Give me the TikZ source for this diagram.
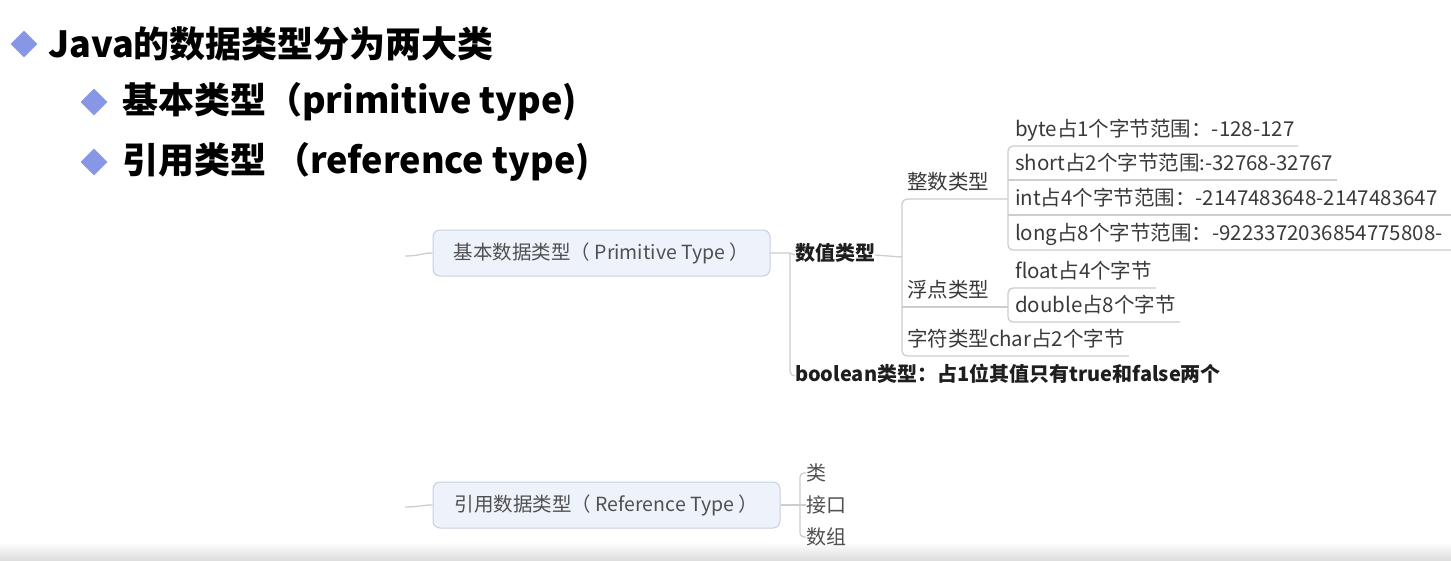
\documentclass[tikz,border=0pt]{standalone}
\usepackage{fontspec}
\setmainfont{Noto Sans CJK SC}
\usetikzlibrary{shapes.geometric}
\definecolor{diam}{HTML}{8896E6}
\definecolor{boxfill}{HTML}{EEF2FB}
\definecolor{boxline}{HTML}{C7CFE0}
\definecolor{boxtext}{HTML}{505050}
\definecolor{linec}{HTML}{CDCDCD}
\definecolor{leafc}{HTML}{3A3A3A}
\definecolor{midc}{HTML}{1E1E1E}
\begin{document}
\begin{tikzpicture}[x=1pt,y=-1pt,
  bullet/.style={diamond,fill=diam,draw=none,minimum width=27pt,minimum height=27pt,inner sep=0pt},
  title/.style={anchor=west,inner sep=0pt,font=\fontsize{36}{40}\selectfont\bfseries,text=black},
  pbox/.style={draw=boxline,line width=1pt,fill=boxfill,rounded corners=7pt,inner sep=0pt,
    font=\fontsize{19.5}{22}\selectfont,text=boxtext,minimum height=46pt},
  mid/.style={anchor=west,inner xsep=0pt,inner ysep=5.5pt,outer sep=0pt,font=\fontsize{20}{24}\selectfont\bfseries,
    text=midc,text height=15pt,text depth=4pt},
  leaf/.style={anchor=west,inner xsep=0pt,inner ysep=5.5pt,outer sep=0pt,font=\fontsize{20.5}{24}\selectfont,
    text=leafc,text height=15pt,text depth=4pt},
  conn/.style={draw=linec,line width=1.3pt},
]
\useasboundingbox (0,0) rectangle (1451,560);
\shade[top color=white,bottom color=black!13] (0,542) rectangle (1451,560);

% title bullets
\node[bullet] (d1) at (24,44) {};
\node[title] (t1) at (48,44) {Java的数据类型分为两大类};
\node[bullet] (d2) at (94,102) {};
\node[title] (t2) at (122,102) {基本类型（primitive type)};
\node[bullet] (d3) at (94,162) {};
\node[title] (t3) at (122,162) {引用类型 （reference type)};

% primitive branch
\node[pbox,minimum width=337pt] (prim) at (601.5,253) {基本数据类型（ Primitive Type ）};
\coordinate (s1) at (405,256);
\draw[conn] (s1) .. controls (420,256) and (421,253) .. (prim.west);

\node[mid] (num) at (795,255) {数值类型};
\node[mid] (bool) at (795,376) {boolean类型：占1位其值只有true和false两个};

\node[leaf] (zs) at (907,184) {整数类型};
\node[leaf] (fd) at (907,292) {浮点类型};
\node[leaf] (ch) at (907,341) {字符类型char占2个字节};

\node[leaf] (byte) at (1015,131) {byte占1个字节范围：-128-127};
\node[leaf] (short) at (1015,165) {short占2个字节范围:-32768-32767};
\node[leaf] (int) at (1015,200) {int占4个字节范围：-2147483648-2147483647};
\node[leaf] (long) at (1015,235) {long占8个字节范围：-9223372036854775808-};
\node[leaf] (float) at (1015,273) {float占4个字节};
\node[leaf] (double) at (1015,307) {double占8个字节};

\coordinate (j1) at (790,253);
\coordinate (j2) at (902,257);
\coordinate (vx) at ([xshift=-7pt]byte.south west);
\coordinate (vx2) at ([xshift=-7pt]float.south west);

\draw[conn] (prim.east) -- (j1) -- (num.west);
\draw[conn,rounded corners=5pt] (j1) |- (bool.west);
\draw[conn] (num.east) -- (j2);
\draw[conn,rounded corners=5pt] (vx |- zs.south) -- ([xshift=-5pt]zs.south west) -- ([xshift=-5pt]ch.south west) -- ([xshift=4pt]ch.south east);
\draw[conn] ([xshift=-5pt]fd.south west) -- (vx2 |- fd.south);

\draw[conn,rounded corners=5pt] ([xshift=4pt]byte.south east) -- (vx) -- ([xshift=-7pt]long.south west) -- (1451,250);
\draw[conn] ([xshift=-7pt]short.south west) -- ([xshift=4pt]short.south east);
\draw[conn] ([xshift=-7pt]int.south west) -- (1451,215);
\draw[conn,rounded corners=5pt] ([xshift=4pt]float.south east) -- (vx2) -- ([xshift=-7pt]double.south west) -- ([xshift=4pt]double.south east);

% reference branch
\node[pbox,minimum width=347pt] (ref) at (606.5,505) {引用数据类型（ Reference Type ）};
\coordinate (s2) at (405,507);
\draw[conn] (s2) .. controls (420,507) and (421,505) .. (ref.west);
\node[anchor=west,inner sep=0pt,font=\fontsize{20}{24}\selectfont,text=boxtext] (lei) at (806,473) {类};
\node[anchor=west,inner sep=0pt,font=\fontsize{20}{24}\selectfont,text=boxtext] (jk) at (806,505) {接口};
\node[anchor=west,inner sep=0pt,font=\fontsize{20}{24}\selectfont,text=boxtext] (sz) at (806,537) {数组};
\coordinate (j3) at (800,505);
\draw[conn] (ref.east) -- (j3) -- (jk.west);
\draw[conn,rounded corners=4pt] (lei.west) -| (j3) |- (sz.west);
\end{tikzpicture}
\end{document}
